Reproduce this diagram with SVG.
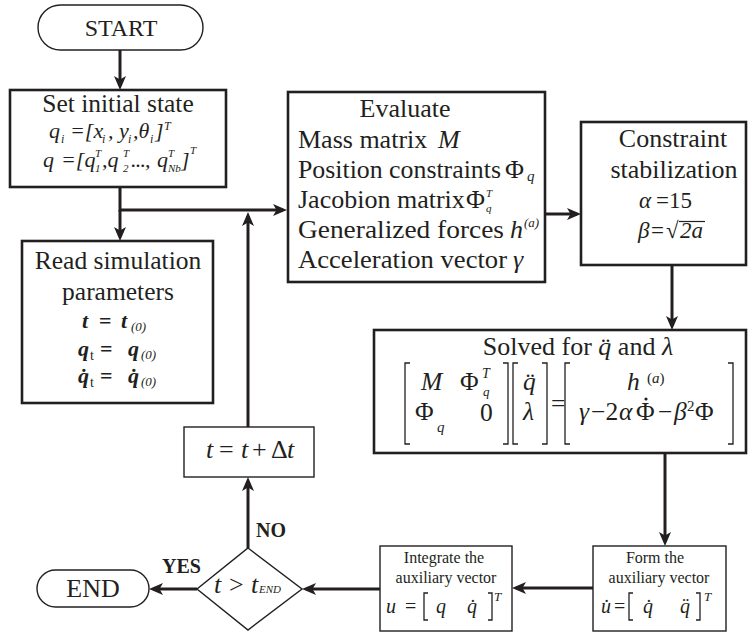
<svg xmlns="http://www.w3.org/2000/svg" width="749" height="633" viewBox="0 0 749 633">
<style>
text{font-family:"Liberation Serif","Times New Roman",serif;fill:#231f20}
.t{font-size:25.5px}
.te{font-size:26px}
.tm{font-size:16px}
.c{text-anchor:middle}
.i{font-style:italic}
.b{font-weight:bold}
.box{fill:#fff;stroke:#231f20;stroke-width:2.6}
.thin{fill:#fff;stroke:#231f20;stroke-width:1.4}
.con{fill:none;stroke:#231f20;stroke-width:3}
.br{fill:none;stroke:#231f20;stroke-width:1.3}
</style>
<defs>
<marker id="ah" viewBox="0 0 14 12" refX="10" refY="6" markerWidth="14" markerHeight="12" orient="auto" markerUnits="userSpaceOnUse">
<path d="M0,0 L14,6 L0,12 L3.5,6 Z" fill="#231f20"/>
</marker>
</defs>
<rect width="749" height="633" fill="#fff"/>

<g id="connectors">
<path class="con" d="M120,50 V86" marker-end="url(#ah)"/>
<path class="con" d="M120,187 V210 H283" marker-end="url(#ah)"/>
<path class="con" d="M120,210 V237" marker-end="url(#ah)"/>
<path class="con" d="M248,427 V216" marker-end="url(#ah)"/>
<path class="con" d="M545,214 H577" marker-end="url(#ah)"/>
<path class="con" d="M672,265 V326" marker-end="url(#ah)"/>
<path class="con" d="M665,453 V542" marker-end="url(#ah)"/>
<path class="con" d="M593,588 H516" marker-end="url(#ah)"/>
<path class="con" d="M380,589 H306" marker-end="url(#ah)"/>
<path class="con" d="M197,589 H153" marker-end="url(#ah)"/>
<path class="con" d="M248,548 V481" marker-end="url(#ah)"/>
<text class="b" x="256" y="537" font-size="20">NO</text>
<text class="b" x="162" y="573" font-size="20">YES</text>
</g>

<g id="start">
<rect class="thin" x="38" y="5" width="165" height="45" rx="22.5"/>
<text class="c" x="121" y="36" font-size="24">START</text>
</g>

<g id="set-initial-state">
<rect class="box" x="10" y="90" width="216" height="97"/>
<text class="t c" x="118" y="112">Set initial state</text>
<text class="i" font-size="22">
<tspan x="49" y="138">q</tspan><tspan x="61" y="143" font-size="12">i</tspan>
<tspan x="70" y="138">=[x</tspan><tspan x="102" y="143" font-size="12">i</tspan>
<tspan x="108" y="138">, y</tspan><tspan x="128" y="143" font-size="12">i</tspan>
<tspan x="133" y="138">,θ</tspan><tspan x="150" y="143" font-size="12">i</tspan>
<tspan x="155" y="138">]</tspan><tspan x="164" y="130" font-size="12">T</tspan>
</text>
<text class="i" font-size="22">
<tspan x="43" y="167">q</tspan>
<tspan x="61" y="167">=[q</tspan><tspan x="95" y="172" font-size="11">1</tspan><tspan x="95" y="157" font-size="11">T</tspan>
<tspan x="102" y="167">,q</tspan><tspan x="123" y="172" font-size="11">2</tspan><tspan x="123" y="157" font-size="11">T</tspan>
<tspan x="131" y="167" letter-spacing="-0.8">...,</tspan><tspan x="157" y="167">q</tspan><tspan x="168" y="172" font-size="11">Nb</tspan><tspan x="168" y="157" font-size="11">T</tspan>
<tspan x="181" y="167">]</tspan><tspan x="190" y="154" font-size="11">T</tspan>
</text>
</g>

<g id="read-parameters">
<rect class="box" x="22" y="241" width="191" height="162"/>
<text class="t c" x="118" y="269">Read simulation</text>
<text class="t c" x="118" y="300">parameters</text>
<text class="i b" font-size="22">
<tspan x="82" y="328">t</tspan><tspan x="99" y="328" font-style="normal">=</tspan><tspan x="121" y="328">t</tspan><tspan x="131" y="331" font-size="13" font-weight="normal">(0)</tspan>
</text>
<text class="i b" font-size="22">
<tspan x="78" y="356">q</tspan><tspan x="90" y="360" font-size="14" font-style="normal" font-weight="normal">t</tspan><tspan x="100" y="356" font-style="normal">=</tspan><tspan x="128" y="356">q</tspan><tspan x="141" y="359" font-size="13" font-weight="normal">(0)</tspan>
</text>
<text class="i b" font-size="22">
<tspan x="78" y="383">q̇</tspan><tspan x="90" y="387" font-size="14" font-style="normal" font-weight="normal">t</tspan><tspan x="100" y="383" font-style="normal">=</tspan><tspan x="128" y="383">q̇</tspan><tspan x="141" y="386" font-size="13" font-weight="normal">(0)</tspan>
</text>
</g>

<g id="evaluate">
<rect class="box" x="288" y="92" width="257" height="190"/>
<text class="te c" x="405" y="117">Evaluate</text>
<text class="te" x="298" y="148">Mass matrix</text>
<text class="te i" x="438" y="148">M</text>
<text class="te" x="298" y="178" textLength="203" lengthAdjust="spacingAndGlyphs">Position constraints</text>
<text class="te" x="505" y="178">Φ</text>
<text class="i" x="527" y="181" font-size="15">q</text>
<text class="te" x="298" y="208">Jacobion matrix</text>
<text class="te" x="466" y="208">Φ</text>
<text class="i" x="486" y="197" font-size="11">T</text>
<text class="i" x="486" y="212" font-size="11">q</text>
<text class="te" x="298" y="238" textLength="206" lengthAdjust="spacingAndGlyphs">Generalized forces</text>
<text class="te i" x="510" y="238">h</text>
<text class="i" x="524" y="227" font-size="13">(a)</text>
<text class="te" x="298" y="268" textLength="209" lengthAdjust="spacingAndGlyphs">Acceleration vector</text>
<text class="te i" x="513" y="268">γ</text>
</g>

<g id="constraint-stabilization">
<rect class="box" x="581" y="122" width="165" height="143"/>
<text class="te c" x="673" y="147">Constraint</text>
<text class="te c" x="674" y="178">stabilization</text>
<text font-size="23"><tspan x="639" y="208" font-style="italic">α</tspan><tspan x="656" y="208">=15</tspan></text>
<text font-size="23"><tspan x="638" y="238" font-style="italic">β</tspan><tspan x="651" y="238">=</tspan><tspan x="666" y="238">√</tspan><tspan x="680" y="238" font-style="italic">2a</tspan></text>
<path d="M679,221.5 H705" stroke="#231f20" stroke-width="1.2"/>
</g>

<g id="solve">
<rect class="box" x="374" y="330" width="372" height="123"/>
<text class="te c" x="578" y="355">Solved for <tspan font-style="italic">q̈</tspan> and <tspan font-style="italic">λ</tspan></text>
<path class="br" d="M410,363 H405 V444 H410 M503,363 H508 V444 H503"/>
<path class="br" d="M518,363 H513 V444 H518 M542,363 H547 V444 H542"/>
<path class="br" d="M570,363 H565 V444 H570 M728,363 H733 V444 H728"/>
<text class="t i" x="421" y="390">M</text>
<text class="t" x="460" y="390">Φ</text>
<text class="i" x="482" y="378" font-size="14">T</text>
<text class="i" x="483" y="396" font-size="13">q</text>
<text class="t" x="415" y="420">Φ</text>
<text class="i" x="437" y="432" font-size="15">q</text>
<text class="t" x="480" y="421">0</text>
<text class="t i" x="523" y="390">q̈</text>
<text class="t i" x="523" y="420">λ</text>
<text class="t" x="551" y="412">=</text>
<text class="t i" x="627" y="390">h</text>
<text x="647" y="383" font-size="15">(<tspan font-style="italic">a</tspan>)</text>
<text class="t"><tspan x="579" y="420" font-style="italic">γ</tspan><tspan x="591" y="420">−2</tspan><tspan x="619" y="420" font-style="italic">α</tspan><tspan x="636" y="420">Φ</tspan><tspan x="658" y="420">−</tspan><tspan x="674" y="420" font-style="italic">β</tspan><tspan x="687" y="411" font-size="15">2</tspan><tspan x="695" y="420">Φ</tspan></text>
<circle cx="646" cy="399" r="1.6" fill="#231f20"/>
</g>

<g id="form-auxiliary">
<rect class="thin" x="593" y="546" width="133" height="85"/>
<text class="tm c" x="655" y="563">Form the</text>
<text class="tm c" x="659" y="583">auxiliary vector</text>
<text class="i" font-size="20"><tspan x="601" y="613">u̇</tspan><tspan x="614" y="613" font-style="normal">=</tspan><tspan x="643" y="613">q̇</tspan><tspan x="680" y="613">q̈</tspan><tspan x="704" y="601" font-size="13">T</tspan></text>
<path class="br" d="M633,593 H629 V620 H633 M696,593 H700 V620 H696"/>
</g>

<g id="integrate">
<rect class="thin" x="380" y="546" width="132" height="85"/>
<text class="tm c" x="444" y="563">Integrate the</text>
<text class="tm c" x="446" y="583">auxiliary vector</text>
<text class="i" font-size="20"><tspan x="386" y="613">u</tspan><tspan x="405" y="613" font-style="normal">=</tspan><tspan x="436" y="613">q</tspan><tspan x="467" y="613">q̇</tspan><tspan x="494" y="601" font-size="13">T</tspan></text>
<path class="br" d="M428,593 H424 V620 H428 M488,593 H492 V620 H488"/>
</g>

<g id="increment">
<rect class="thin" x="184" y="427" width="130" height="50"/>
<text font-size="26"><tspan x="206" y="458" font-style="italic">t</tspan><tspan x="219" y="458">=</tspan><tspan x="241" y="458" font-style="italic">t</tspan><tspan x="252" y="458">+</tspan><tspan x="271" y="458">Δ</tspan><tspan x="287" y="458" font-style="italic">t</tspan></text>
</g>

<g id="decision">
<polygon class="thin" points="248,548 302,589 248,630 197,589"/>
<text font-size="26"><tspan x="214" y="593" font-style="italic">t</tspan><tspan x="229" y="593">&gt;</tspan><tspan x="251" y="593" font-style="italic">t</tspan><tspan x="259" y="593" font-size="11" font-style="italic">END</tspan></text>
</g>

<g id="end">
<rect class="thin" x="37" y="570" width="112" height="37" rx="18.5"/>
<text class="c" x="93" y="597" font-size="26">END</text>
</g>
</svg>
